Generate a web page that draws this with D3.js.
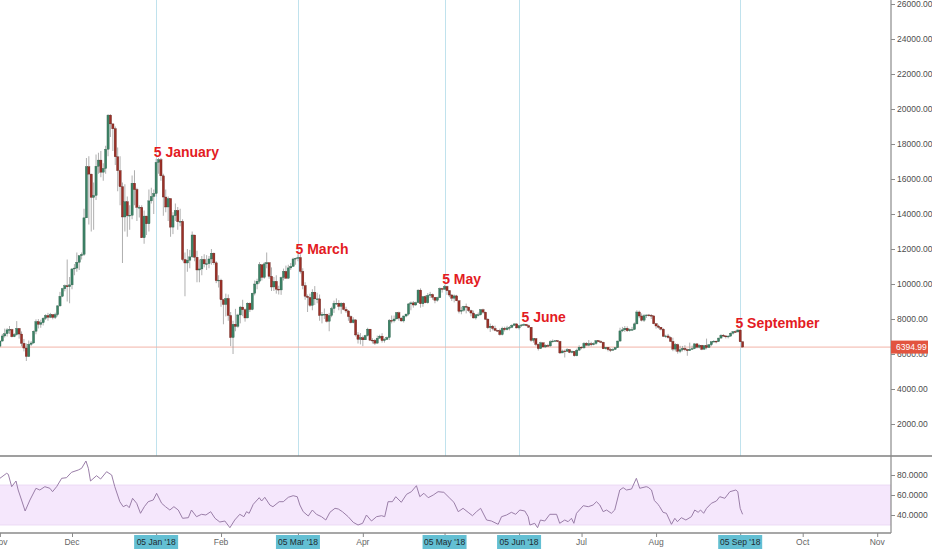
<!DOCTYPE html>
<html>
<head>
<meta charset="utf-8">
<script src="https://cdn.jsdelivr.net/npm/d3@7"></script>
<style>
  body { margin: 0; background: #fff; }
  svg { display: block; font-family: "Liberation Sans", Arial, sans-serif; }
</style>
</head>
<body>
<div id="chart"></div>
<script>
// btc daily candles + rsi, tradingview-ish look

const W = 932, H = 550;
const DAY = 864e5;
const startDay = Date.UTC(2017, 10, 1); // first candle, 1 nov 2017
const firstOpen = 6450;

// daily closes, one row per month (nov 17 .. sep 18)
const closes = [
  6740, 7030, 7160, 7380, 7400, 6990, 7110, 7460, 7140, 6610, 6340, 5860, 6550, 6630, 7300, 7850, 7700, 7790, 8040, 8200, 8100, 8250, 8090, 8250, 8750, 9300, 9730, 9900, 9840, 9950,
  10860, 10910, 11240, 11620, 11690, 13780, 16700, 16280, 14950, 15060, 16730, 17080, 16390, 16600, 17700, 19650, 19150, 18870, 17270, 16480, 15560, 13830, 14700, 13900, 13930, 15760, 15400, 14380, 14380, 12640, 13880,
  13440, 14750, 15000, 15170, 16950, 17100, 16180, 14970, 14400, 14880, 13250, 13900, 14200, 13560, 13580, 11400, 11200, 11360, 11550, 12800, 11530, 10800, 10860, 11400, 11150, 11160, 11430, 11760, 11210, 10190, 10220,
  9100, 8830, 9170, 8200, 6940, 7700, 7580, 8230, 8680, 8530, 8060, 8900, 8540, 9470, 10000, 10160, 11100, 10380, 11150, 11220, 10440, 9830, 10150, 9700, 9660, 10370, 10720, 10330,
  10920, 11000, 11430, 11470, 11510, 10720, 9910, 9300, 9230, 8780, 9530, 9150, 9150, 8200, 8270, 8270, 7870, 8200, 8600, 8900, 8900, 8720, 8900, 8550, 8460, 8140, 7790, 7950, 7090, 6840, 6930,
  6810, 7050, 7420, 6790, 6780, 6620, 6900, 7020, 6770, 6830, 6940, 7920, 7890, 8000, 8360, 8050, 7890, 8170, 8280, 8860, 8920, 8800, 8940, 9650, 8870, 9280, 8930, 9350, 9400, 9240,
  9070, 9220, 9740, 9700, 9860, 9620, 9370, 9190, 9320, 9040, 8440, 8500, 8720, 8680, 8480, 8340, 8060, 8240, 8240, 8530, 8390, 7990, 7500, 7590, 7460, 7350, 7340, 7110, 7470, 7390, 7490,
  7520, 7640, 7720, 7490, 7620, 7660, 7690, 7620, 7530, 6780, 6880, 6550, 6310, 6640, 6400, 6490, 6460, 6700, 6740, 6760, 6720, 6060, 6170, 6150, 6250, 6090, 6150, 5900, 6220, 6390,
  6350, 6610, 6500, 6590, 6530, 6600, 6760, 6710, 6670, 6300, 6380, 6250, 6220, 6260, 6360, 6740, 7320, 7380, 7470, 7330, 7400, 7400, 7720, 8400, 8170, 7930, 8190, 8230, 8210, 8180, 7730,
  7600, 7530, 7420, 7010, 7030, 6940, 6720, 6280, 6540, 6150, 6240, 6320, 6250, 6190, 6270, 6310, 6580, 6390, 6490, 6270, 6480, 6370, 6530, 6700, 6730, 6710, 6910, 7070, 7030, 6980, 7020,
  7190, 7280, 7260, 7370, 6700, 6395
];

const highs = [
  6780, 7150, 7450, 7480, 7600, 7440, 7190, 7880, 7480, 7290, 6860, 6600, 6770, 6740, 7340, 7980, 8000, 7960, 8100, 8270, 8350, 8350, 8270, 8360, 8780, 9550, 9780, 9970, 11400, 10400,
  10900, 11140, 11800, 11620, 11800, 14300, 17200, 17300, 16300, 15800, 17400, 17500, 17600, 16900, 17900, 19700, 19700, 19100, 19000, 17800, 17300, 15800, 15700, 15000, 14500, 16200, 16500, 15500, 14500, 14500, 14200,
  13900, 15400, 15500, 15400, 17150, 17200, 17200, 16300, 15400, 15000, 14900, 14100, 14600, 14400, 14300, 13700, 11800, 12000, 11950, 13000, 12800, 11900, 11400, 11600, 11700, 11650, 11600, 12000, 11800, 11300, 10500,
  10300, 9150, 9450, 9400, 8400, 7900, 8580, 8300, 8750, 9100, 8600, 8950, 8950, 9500, 10200, 10300, 11250, 11100, 11250, 11800, 11200, 10950, 10400, 10500, 9900, 10420, 10880, 11050,
  11100, 11200, 11500, 11500, 11700, 11700, 10900, 10100, 9400, 9450, 9700, 9880, 9500, 9400, 8400, 8600, 8300, 8350, 8700, 9050, 9180, 9080, 8950, 8950, 8700, 8500, 8200, 8100, 7980, 7250, 7200,
  7050, 7100, 7500, 7430, 6900, 6860, 7050, 7100, 7190, 6900, 7000, 8000, 8200, 8200, 8400, 8420, 8100, 8200, 8300, 8900, 9000, 9030, 8990, 9700, 9750, 9300, 9360, 9480, 9550, 9450,
  9250, 9270, 9800, 9780, 9950, 9900, 9650, 9430, 9400, 9380, 9050, 8700, 8750, 8880, 8700, 8530, 8480, 8260, 8370, 8560, 8590, 8420, 8050, 7740, 7660, 7620, 7380, 7450, 7560, 7560, 7610,
  7600, 7700, 7750, 7750, 7650, 7700, 7750, 7700, 7680, 7530, 6900, 6900, 6600, 6700, 6650, 6550, 6580, 6780, 6830, 6790, 6790, 6750, 6250, 6250, 6330, 6280, 6200, 6170, 6300, 6500,
  6440, 6680, 6680, 6800, 6700, 6660, 6800, 6800, 6780, 6700, 6400, 6400, 6340, 6330, 6400, 6760, 7500, 7550, 7600, 7580, 7460, 7550, 7800, 8500, 8480, 8320, 8280, 8250, 8290, 8280, 8180,
  7760, 7680, 7550, 7480, 7100, 7150, 7000, 6930, 6630, 6590, 6470, 6460, 6500, 6300, 6650, 6480, 6600, 6600, 6550, 6520, 6490, 6880, 6570, 6720, 6790, 6770, 6930, 7130, 7140, 7080, 7080,
  7230, 7300, 7350, 7410, 7390, 6710
];

const lows = [
  6390, 6710, 6940, 7000, 7150, 6950, 6960, 7050, 6880, 6440, 6150, 5600, 5830, 6460, 6590, 7130, 7460, 7500, 7630, 7950, 7900, 8050, 7980, 8000, 8150, 8700, 9250, 9580, 9000, 8900,
  9700, 10500, 10700, 10800, 11400, 11600, 13800, 13400, 13000, 13100, 14800, 16300, 16100, 15900, 16300, 17300, 18400, 17600, 16800, 15300, 14500, 11200, 13000, 12700, 13100, 13700, 14500, 13600, 13800, 12700, 12300,
  12800, 13000, 14600, 14000, 15000, 16300, 15900, 13900, 14100, 13600, 12700, 12850, 13600, 13100, 13300, 11300, 9300, 10700, 10900, 11500, 11300, 10100, 10100, 10500, 10950, 10800, 10900, 11100, 11100, 10050, 9800,
  8700, 7700, 8150, 7900, 6450, 6000, 7300, 7500, 7750, 8160, 7850, 8050, 8400, 8500, 9350, 9700, 10030, 10200, 10300, 10900, 10300, 9600, 9600, 9450, 9400, 9380, 10200, 10300,
  10300, 10800, 11000, 11100, 11300, 10600, 9700, 9100, 8400, 8700, 8500, 8800, 8900, 7900, 7750, 8000, 7800, 7300, 8100, 8350, 8800, 8500, 8300, 8500, 8350, 7900, 7750, 7750, 7000, 6600, 6550,
  6450, 6800, 7000, 6750, 6600, 6520, 6600, 6900, 6650, 6650, 6800, 6800, 7750, 7800, 8000, 7900, 7850, 7800, 8100, 8200, 8500, 8650, 8750, 8900, 8650, 8700, 8900, 8880, 9200, 9100,
  8900, 8990, 9200, 9510, 9680, 9380, 9250, 9030, 8950, 9020, 8320, 8270, 8420, 8320, 8400, 8150, 8030, 7970, 8150, 8200, 8300, 7940, 7420, 7260, 7350, 7300, 7270, 7050, 7060, 7290, 7350,
  7350, 7480, 7600, 7460, 7400, 7550, 7600, 7580, 7500, 6700, 6650, 6450, 6200, 6290, 6390, 6360, 6400, 6420, 6650, 6700, 6680, 6000, 6050, 5800, 6120, 6050, 6040, 5850, 5870, 6180,
  6270, 6300, 6490, 6440, 6440, 6500, 6530, 6680, 6620, 6280, 6260, 6150, 6110, 6180, 6240, 6350, 6700, 7250, 7260, 7260, 7280, 7330, 7380, 7700, 8050, 7860, 7830, 8060, 8140, 8000, 7700,
  7450, 7450, 7350, 6970, 6920, 6880, 6700, 6160, 6150, 6020, 6050, 6150, 6160, 5900, 6180, 6230, 6280, 6320, 6320, 6220, 6260, 6270, 6360, 6450, 6660, 6610, 6690, 6870, 6970, 6890, 6890,
  7000, 7110, 7200, 7240, 6680, 6390
];

// rsi line: day number from 1 nov 2017, value
const rsiDays = [
  0, 2.8, 3.5, 4.9, 6.7, 7.6, 9, 10.5, 12.5, 15, 16.6, 18.7, 20.8, 21.9, 23.6, 25.7, 27.7, 29.8, 32.6, 34, 35.8, 36.8, 37.7, 40.2, 41.9, 44.4, 46.5, 47.8, 49.9, 51.3,
  52.7, 53.8, 55.2, 56.9, 58.5, 60.1, 61.7, 63.8, 65.2, 67.3, 68.9, 70.7, 72.4, 74.2, 76, 78.4, 79.7, 81.8, 83.9, 85.7, 87.7, 89.5, 91.5, 93.6, 95.7, 97.7, 99.8, 101.5, 102.6, 103.7,
  105.4, 107.9, 108.9, 110.2, 112.3, 113.6, 116.2, 117.9, 120, 122, 123.7, 124.8, 126.2, 128.3, 130, 131.7, 133.8, 135.6, 137.3, 139.4, 140.8, 142.5, 144.9, 147, 149, 150.9, 152.5, 154.6, 156.7, 158.8,
  160.1, 161.5, 163.3, 164.7, 167, 169.2, 171.2, 173.3, 174.7, 176.4, 178.2, 180.3, 182.3, 184.7, 187.2, 188.9, 190.7, 192.7, 194.8, 196.6, 198.3, 200, 202.5, 204.5, 207.3, 208.7, 210.8, 212.8, 214.6, 216.3,
  218.4, 219.8, 220.5, 222.5, 223.7, 224.9, 226.7, 228.8, 231.6, 232.9, 235, 236.4, 237.8, 238.8, 239.9, 242.7, 244.8, 246.8, 248.2, 249.6, 251, 252.4, 254.4, 255.8, 257.9, 259.3, 260.7, 262.8, 264.8, 266.2,
  268.9, 269.7, 271.1, 272.3, 273.8, 274.5, 275.9, 277.3, 279.4, 280.8, 281.9, 283.5, 285.4, 287.7, 289.1, 290.5, 291.5, 292.8, 294, 296, 298.1, 299.5, 301.6, 303.7, 306.2, 307, 308, 309
];
const rsiVals = [
  76.7, 81.7, 80.7, 68.3, 74, 65, 55, 44, 55, 66.7, 65, 68.3, 66.7, 63.3, 68.3, 76.7, 77.3, 82.7, 85, 86.7, 94, 86.7, 74, 79.3, 76, 83.3, 80, 68.3, 53.3, 48.3,
  50, 47.3, 56.7, 51.7, 41.7, 48.3, 53.3, 55, 61.7, 51.7, 48.3, 45, 48.3, 45, 36.7, 37.3, 45, 38.3, 40.7, 40, 43.3, 36.7, 33, 34, 27.3, 35, 40.7, 38.3, 43.3, 41.7,
  50.7, 57.3, 54, 57.7, 50, 48.3, 53.3, 53.3, 57.7, 59.3, 58.3, 50, 43.3, 39, 45, 40.7, 38.3, 35, 42.7, 46.7, 46, 43.3, 38.3, 32.7, 30, 31.7, 40, 34, 38.3, 39.3,
  38.3, 53.3, 53.3, 58.3, 52.7, 60.7, 63.3, 69.3, 58.3, 61.7, 57.3, 60, 63.3, 62.7, 56.7, 52.7, 43.3, 46.7, 42.7, 39.3, 43.3, 46.7, 35, 34, 30.7, 38.3, 40, 42.7, 40.7, 45,
  44, 38.3, 30, 31.7, 27.3, 35, 34, 40.7, 40.7, 31.7, 35, 33.3, 36.7, 31.7, 41.7, 49.3, 48.3, 50, 53.3, 50, 43.3, 45, 41.7, 45, 65, 67.3, 65, 66, 76.7, 66.7,
  68.3, 67.7, 65, 54.5, 50.7, 48.3, 42.7, 41.7, 30.7, 36.7, 33.3, 37.3, 35, 38.3, 45, 42.7, 45, 41.7, 46.7, 51.7, 54, 58.3, 56.7, 63.3, 65, 63.3, 46.7, 40.7
];

// axis stuff
const priceTicks = [2000, 4000, 6000, 8000, 10000, 12000, 14000, 16000, 18000, 20000, 22000, 24000, 26000];
const rsiTicks = [40, 60, 80];
const rsiBand = [30, 70];
const monthDates = ["2017-11-01", "2017-12-01", "2018-02-01", "2018-04-01", "2018-07-01", "2018-08-01", "2018-10-01", "2018-11-01"];
const monthNames = ["Nov", "Dec", "Feb", "Apr", "Jul", "Aug", "Oct", "Nov"];

// the marked dates with vertical lines + axis badges
const markDates = ["2018-01-05", "2018-03-05", "2018-05-05", "2018-06-05", "2018-09-05"];
const markBadges = ["05 Jan '18", "05 Mar '18", "05 May '18", "05 Jun '18", "05 Sep '18"];

// red text notes, anchored at (date, price) like the drawing tool does
const noteTexts = ["5 January", "5 March", "5 May", "5 June", "5 September"];
const noteDates = ["2018-01-04", "2018-03-04", "2018-05-04", "2018-06-06", "2018-09-03"];
const notePrices = [17250, 11700, 10000, 7830, 7490];

const lastPrice = 6394.99;

const parse = d3.utcParse("%Y-%m-%d");

const candles = closes.map((c, i) => {
  const o = i === 0 ? firstOpen : closes[i - 1];
  return {
    date: new Date(startDay + i * DAY),
    o, c,
    h: Math.max(highs[i], o, c),
    l: Math.min(lows[i], o, c)
  };
});

// layout
const axisX = 891;      // price scale line
const paneSep = 456;    // between price and rsi
const bottomAxis = 533;

const x = d3.scaleUtc()
  .domain([new Date(Date.UTC(2017, 10, 1)), new Date(Date.UTC(2018, 10, 1))])
  .range([-0.1, 877.2]);

const y = d3.scaleLinear().domain([2000, 26000]).range([424, 4]);
const yR = d3.scaleLinear().domain([40, 80]).range([515, 475]);

const svg = d3.select("#chart").append("svg")
  .attr("width", W)
  .attr("height", H);

svg.append("rect").attr("width", W).attr("height", H).attr("fill", "#fff");

svg.append("clipPath").attr("id", "pclip")
  .append("rect").attr("x", 0).attr("y", 0).attr("width", axisX).attr("height", paneSep);
svg.append("clipPath").attr("id", "rclip")
  .append("rect").attr("x", 0).attr("y", paneSep).attr("width", axisX).attr("height", bottomAxis - paneSep);

// vertical date lines
svg.append("g").selectAll("line")
  .data(markDates)
  .join("line")
  .attr("x1", d => Math.round(x(parse(d))) + 0.5)
  .attr("x2", d => Math.round(x(parse(d))) + 0.5)
  .attr("y1", 0)
  .attr("y2", paneSep)
  .attr("stroke", "#c0e2ed")
  .attr("stroke-width", 1);

// last price line
svg.append("line")
  .attr("x1", 0).attr("x2", axisX)
  .attr("y1", y(lastPrice)).attr("y2", y(lastPrice))
  .attr("stroke", "#f2b3a8")
  .attr("stroke-width", 1);

// candles
const cg = svg.append("g").attr("clip-path", "url(#pclip)");
const bw = 2.2;

cg.selectAll("line.wick")
  .data(candles)
  .join("line")
  .attr("class", "wick")
  .attr("x1", d => x(d.date))
  .attr("x2", d => x(d.date))
  .attr("y1", d => y(d.h))
  .attr("y2", d => y(d.l))
  .attr("stroke", "#9a9a9a")
  .attr("stroke-width", 0.8);

cg.selectAll("rect.body")
  .data(candles)
  .join("rect")
  .attr("class", "body")
  .attr("x", d => x(d.date) - bw / 2)
  .attr("y", d => y(Math.max(d.o, d.c)))
  .attr("width", bw)
  .attr("height", d => Math.max(0.8, Math.abs(y(d.o) - y(d.c))))
  .attr("fill", d => d.c >= d.o ? "#3c8266" : "#9b3027")
  .attr("stroke", d => d.c >= d.o ? "#2c5e49" : "#5e1d17")
  .attr("stroke-width", 0.35);

// notes
svg.append("g").selectAll("text")
  .data(noteTexts)
  .join("text")
  .attr("x", (d, i) => x(parse(noteDates[i])))
  .attr("y", (d, i) => y(notePrices[i]))
  .attr("fill", "#e31b23")
  .attr("font-size", 14)
  .attr("font-weight", 700)
  .text(d => d);

// rsi band + line
const rg = svg.append("g").attr("clip-path", "url(#rclip)");
rg.append("rect")
  .attr("x", 0)
  .attr("y", yR(rsiBand[1]))
  .attr("width", axisX)
  .attr("height", yR(rsiBand[0]) - yR(rsiBand[1]))
  .attr("fill", "#f5e7fc");

rg.selectAll("line.band")
  .data(rsiBand)
  .join("line")
  .attr("class", "band")
  .attr("x1", 0).attr("x2", axisX)
  .attr("y1", d => yR(d)).attr("y2", d => yR(d))
  .attr("stroke", "#e8d6f2")
  .attr("stroke-width", 0.8);

const rsiLine = d3.line()
  .x((d, i) => x(new Date(startDay + rsiDays[i] * DAY)))
  .y(d => yR(d));

rg.append("path")
  .datum(rsiVals)
  .attr("d", rsiLine)
  .attr("fill", "none")
  .attr("stroke", "#9a7ea8")
  .attr("stroke-width", 1);

// pane borders
svg.append("line")
  .attr("x1", 0).attr("x2", W)
  .attr("y1", paneSep).attr("y2", paneSep)
  .attr("stroke", "#7f7f7f").attr("stroke-width", 1.3);

svg.append("line")
  .attr("x1", 0).attr("x2", axisX)
  .attr("y1", bottomAxis).attr("y2", bottomAxis)
  .attr("stroke", "#8a8a8a").attr("stroke-width", 1.6);

svg.append("line")
  .attr("x1", axisX).attr("x2", axisX)
  .attr("y1", 0).attr("y2", bottomAxis)
  .attr("stroke", "#8a8a8a").attr("stroke-width", 1.2);

// price scale
const pAxis = svg.append("g")
  .attr("transform", `translate(${axisX},0)`)
  .call(d3.axisRight(y).tickValues(priceTicks).tickFormat(d3.format(".2f")).tickSize(4).tickPadding(2));

const rAxis = svg.append("g")
  .attr("transform", `translate(${axisX},0)`)
  .call(d3.axisRight(yR).tickValues(rsiTicks).tickFormat(d3.format(".4f")).tickSize(4).tickPadding(2));

[pAxis, rAxis].forEach(a => {
  a.select(".domain").remove();
  a.selectAll(".tick line").attr("stroke", "#8a8a8a");
  a.selectAll(".tick text")
    .attr("fill", "#4d4d4d")
    .attr("font-size", 8.5)
    .attr("font-family", "Liberation Sans, Arial, sans-serif");
});

// last price badge
const badge = svg.append("g").attr("transform", `translate(${axisX},${y(lastPrice)})`);
badge.append("rect")
  .attr("x", 0).attr("y", -6.5)
  .attr("width", 37).attr("height", 13)
  .attr("fill", "#e2543f");
badge.append("text")
  .attr("x", 5).attr("y", 3)
  .attr("fill", "#fff")
  .attr("font-size", 8.5)
  .text(d3.format(".2f")(lastPrice));

// time axis
const tAxis = svg.append("g")
  .attr("transform", `translate(0,${bottomAxis})`)
  .call(d3.axisBottom(x)
    .tickValues(monthDates.map(parse).concat(markDates.map(parse)))
    .tickFormat("")
    .tickSize(4));
tAxis.select(".domain").remove();
tAxis.selectAll(".tick line").attr("stroke", "#8a8a8a");

svg.append("g").selectAll("text")
  .data(monthNames)
  .join("text")
  .attr("x", (d, i) => x(parse(monthDates[i])))
  .attr("y", 545)
  .attr("text-anchor", "middle")
  .attr("fill", "#666")
  .attr("font-size", 8.5)
  .text(d => d);

const badges = svg.append("g").selectAll("g")
  .data(markBadges)
  .join("g")
  .attr("transform", (d, i) => `translate(${x(parse(markDates[i]))},0)`);

badges.append("rect")
  .attr("x", -22).attr("y", 535)
  .attr("width", 44).attr("height", 14)
  .attr("fill", "#63bfd3");

badges.append("text")
  .attr("x", 0).attr("y", 545)
  .attr("text-anchor", "middle")
  .attr("fill", "#1e2b30")
  .attr("font-size", 8.5)
  .text(d => d);
</script>
</body>
</html>
